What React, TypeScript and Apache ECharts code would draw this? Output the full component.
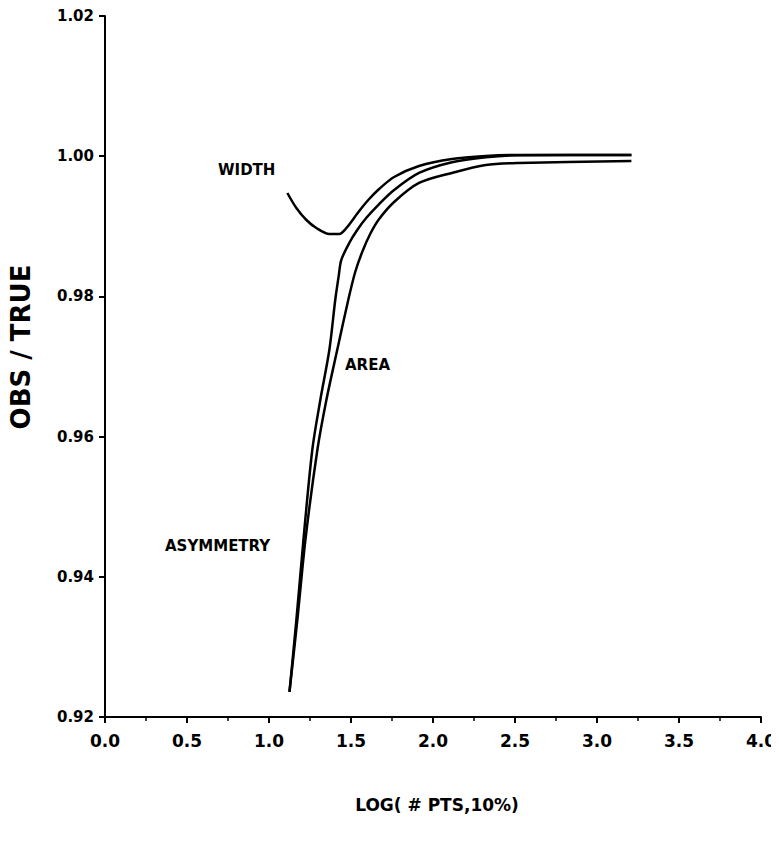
import React, { useEffect, useRef } from "react";
import * as echarts from "echarts";

const xTicks = [0, 0.5, 1, 1.5, 2, 2.5, 3, 3.5, 4];
const yTicks = [0.92, 0.94, 0.96, 0.98, 1.0, 1.02];

const widthX = [1.112, 1.167, 1.228, 1.289, 1.368, 1.4286, 1.4711, 1.5502, 1.6109, 1.6717, 1.7629, 1.9149, 2.1155, 2.3222, 2.5228, 3.21];
const widthY = [0.99475, 0.99261, 0.9909, 0.98976, 0.9889, 0.9889, 0.98973, 0.99218, 0.99389, 0.99532, 0.99703, 0.9986, 0.9996, 1.00003, 1.00017, 1.00017];

const asymX = [1.125, 1.167, 1.21, 1.264, 1.313, 1.368, 1.404, 1.426, 1.4407, 1.4894, 1.538, 1.5927, 1.6717, 1.7629, 1.9149, 2.1155, 2.3222, 2.5228, 3.21];
const asymY = [0.92357, 0.93384, 0.94525, 0.95809, 0.96522, 0.97235, 0.97949, 0.98306, 0.98519, 0.98762, 0.98947, 0.99118, 0.99317, 0.99518, 0.99761, 0.99914, 0.99986, 1.00014, 1.00017];

const areaX = [1.125, 1.173, 1.222, 1.295, 1.35, 1.416, 1.4833, 1.5258, 1.5684, 1.617, 1.6717, 1.7629, 1.9149, 2.1155, 2.3222, 2.5228, 3.21];
const areaY = [0.92357, 0.93384, 0.94525, 0.95809, 0.96522, 0.97235, 0.97949, 0.98348, 0.98633, 0.9889, 0.99104, 0.99347, 0.99618, 0.99761, 0.99875, 0.99904, 0.99932];

const zip = (xs: number[], ys: number[]) => xs.map((x, i) => [x, ys[i]]);

const FONT = "DejaVu Sans";

export default function App() {
  const ref = useRef<HTMLDivElement>(null);
  useEffect(() => {
    if (!ref.current) return;
    const chart = echarts.init(ref.current, undefined, { renderer: "svg" });
    const lineStyle = { color: "#000", width: 2.5 };
    const common = { type: "line", showSymbol: false, smooth: 0.3, lineStyle };
    chart.setOption({
      animation: false,
      backgroundColor: "#fff",
      grid: { left: 105, right: 17, top: 16, bottom: 136, containLabel: false },
      xAxis: {
        type: "value",
        min: xTicks[0],
        max: xTicks[xTicks.length - 1],
        interval: 0.5,
        axisLine: { lineStyle: { color: "#000", width: 2 } },
        axisTick: { show: true, length: 6, lineStyle: { color: "#000", width: 2 } },
        minorTick: { show: true, splitNumber: 2, length: 4, lineStyle: { color: "#000", width: 1.5 } },
        splitLine: { show: false },
        axisLabel: {
          color: "#000",
          fontFamily: FONT,
          fontWeight: "bold",
          fontSize: 17,
          margin: 15,
          formatter: (v: number) => v.toFixed(1),
        },
      },
      yAxis: {
        type: "value",
        min: yTicks[0],
        max: yTicks[yTicks.length - 1],
        interval: 0.02,
        axisLine: { show: true, lineStyle: { color: "#000", width: 2 } },
        axisTick: { show: true, length: 6, lineStyle: { color: "#000", width: 2 } },
        splitLine: { show: false },
        axisLabel: {
          color: "#000",
          fontFamily: FONT,
          fontWeight: "bold",
          fontSize: 15,
          margin: 11,
          formatter: (v: number) => v.toFixed(2),
        },
      },
      series: [
        { ...common, name: "WIDTH", data: zip(widthX, widthY) },
        { ...common, name: "ASYMMETRY", data: zip(asymX, asymY) },
        { ...common, name: "AREA", data: zip(areaX, areaY) },
      ],
      graphic: [
        { type: "text", left: 218, top: 162, style: { text: "WIDTH", fill: "#000", font: `bold 15px "${FONT}"` } },
        { type: "text", left: 345, top: 357, style: { text: "AREA", fill: "#000", font: `bold 15px "${FONT}"` } },
        { type: "text", left: 165, top: 538, style: { text: "ASYMMETRY", fill: "#000", font: `bold 15px "${FONT}"` } },
        {
          type: "text",
          x: 21,
          y: 347,
          rotation: Math.PI / 2,
          style: { text: "OBS / TRUE", fill: "#000", font: `bold 26px "${FONT}"`, align: "center", verticalAlign: "middle" },
        },
        {
          type: "text",
          x: 437,
          y: 805,
          style: { text: "LOG( # PTS,10%)", fill: "#000", font: `bold 17px "${FONT}"`, align: "center", verticalAlign: "middle" },
        },
      ],
    });
    return () => chart.dispose();
  }, []);
  return <div ref={ref} style={{ width: 779, height: 853, margin: -8 }} />;
}
